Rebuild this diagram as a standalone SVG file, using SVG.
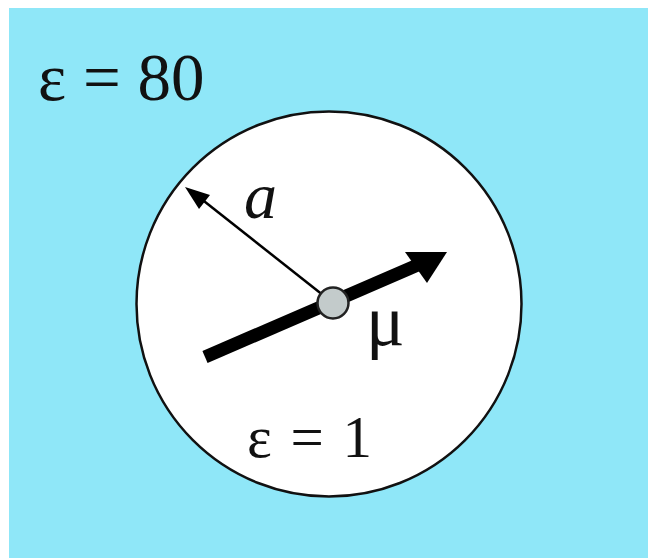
<svg xmlns="http://www.w3.org/2000/svg" width="648" height="558" viewBox="0 0 648 558">
<defs>
<style>
text{font-family:'Liberation Serif','Times New Roman',serif;fill:#111}
</style>
</defs>
<rect x="0" y="0" width="648" height="558" fill="#ffffff"/>
<rect id="medium" x="9" y="8" width="639" height="550" fill="#8fe7f8"/>
<g id="sphere">
<circle cx="329" cy="304" r="192.5" fill="#ffffff" stroke="#111" stroke-width="2.5"/>
</g>
<g id="connectors">
<line x1="333" y1="303" x2="195" y2="194" stroke="#000" stroke-width="2.5"/>
<path d="M185,187 L210,195 L199,209 Z" fill="#000"/>
<line x1="205" y1="357" x2="420" y2="264" stroke="#000" stroke-width="13"/>
<path d="M447,252 L405,252 L427,283 Z" fill="#000"/>
</g>
<g id="dipole">
<circle cx="333" cy="303" r="15.5" fill="#c3cbcb" stroke="#222" stroke-width="2.5"/>
</g>
<g id="labels">
<text x="38" y="100" font-size="67">ε = 80</text>
<text x="244" y="218" font-size="66" font-style="italic">a</text>
<text x="366" y="345" font-size="72">μ</text>
<text x="247" y="457" font-size="59" word-spacing="4">ε = 1</text>
</g>
</svg>
